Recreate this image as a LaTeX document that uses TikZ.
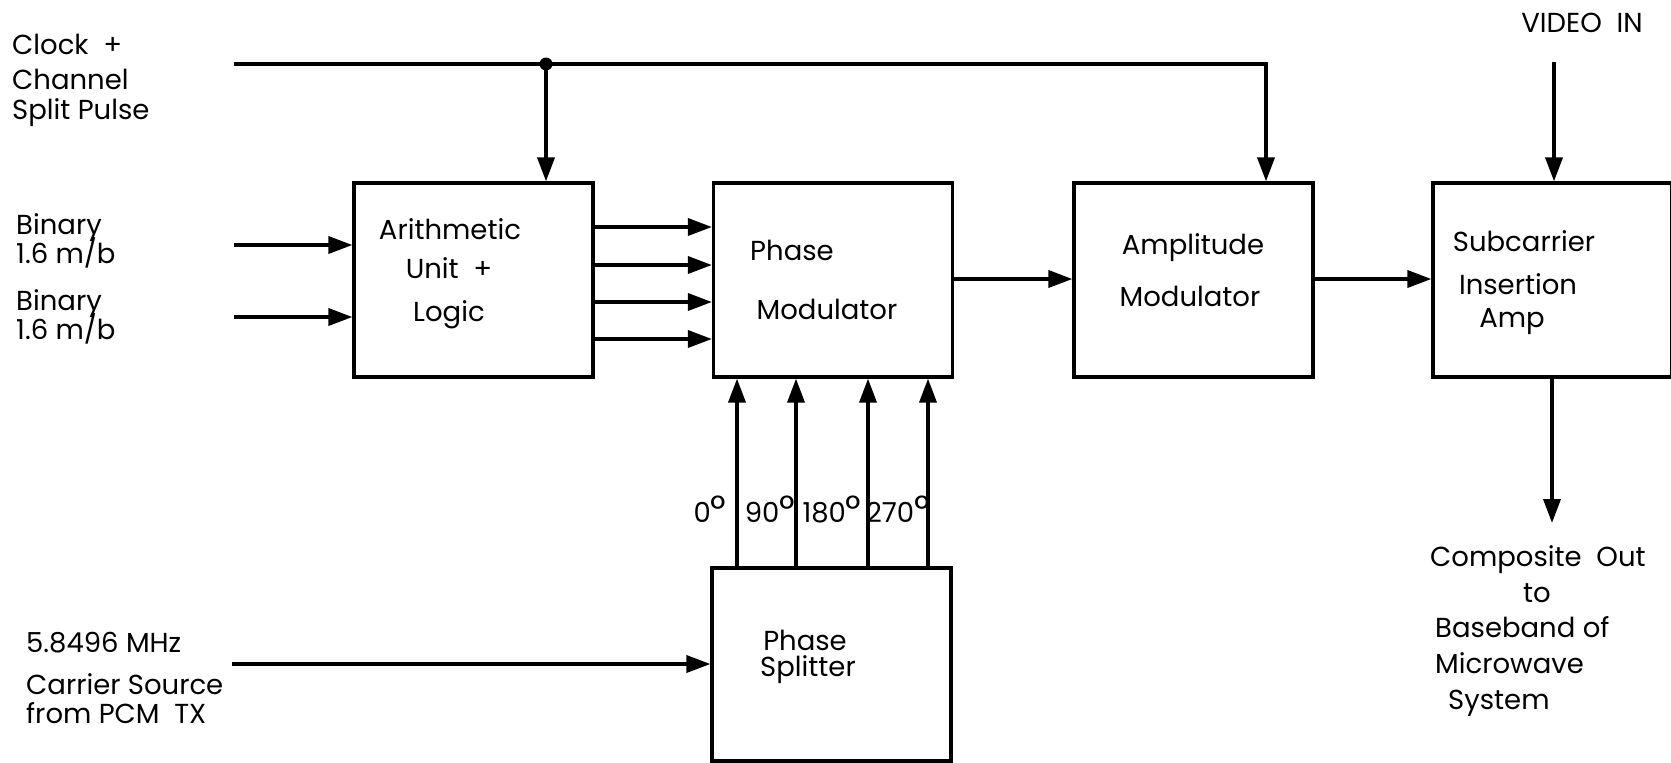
\documentclass[tikz,border=0pt]{standalone}
\usepackage{fontspec}
\setmainfont{Poppins}
\usetikzlibrary{arrows.meta,calc}
\newcommand{\dg}{{\fontsize{38}{38}\selectfont °}}
\begin{document}
\begin{tikzpicture}[x=1pt,y=-1pt,
  box/.style={draw,line width=3.2pt,minimum width=239pt,minimum height=194pt,inner sep=0pt},
  lbl/.style={inner sep=0pt,font=\fontsize{27.5}{32}\selectfont},
  lbll/.style={lbl,anchor=west},
  arr/.style={line width=3.6pt,-{Triangle[length=24pt,width=17pt]}},
  ln/.style={line width=3.6pt}]
\clip (0,0) rectangle (1671,763);
\fill[white] (0,0) rectangle (1671,763);
% boxes
\node[box] (au) at (473.5,280) {};
\node[box] (pm) at (833,280) {};
\node[box] (am) at (1193.5,280) {};
\node[box] (sc) at (1552.5,280) {};
\node[box,minimum height=193pt] (ps) at (831.5,664.5) {};
% box labels
\node[lbl] (t1) at (450,229) {Arithmetic};
\node[lbl] (t2) at (449,268) {Unit \ +};
\node[lbl] (t3) at (449,315) {Logic};
\node[lbl] (t4) at (792,250) {Phase};
\node[lbl] (t5) at (827,309) {Modulator};
\node[lbl] (t6) at (1193,248) {Amplitude};
\node[lbl] (t7) at (1190,296) {Modulator};
\node[lbl] (t8) at (1524,241) {Subcarrier};
\node[lbl] (t9) at (1518,284) {Insertion};
\node[lbl] (t10) at (1512,322) {Amp};
\node[lbl] (t11) at (805,640) {Phase};
\node[lbl] (t12) at (808,670) {Splitter};
% outside labels
\node[lbll] (c1) at (12,44) {Clock \ +};
\node[lbll] (c2) at (12,79) {Channel};
\node[lbll] (c3) at (12,113) {Split Pulse};
\node[lbll] (bn1) at (16,228) {Binary};
\node[lbll] (bn1b) at (16,253) {1.6 m/b};
\node[lbll] (bn2) at (16,304) {Binary};
\node[lbll] (bn2b) at (16,329) {1.6 m/b};
\node[lbll] (f1) at (26,643) {5.8496 MHz};
\node[lbll] (f2) at (26,684) {Carrier Source};
\node[lbll] (f3) at (26,713) {from PCM \ TX};
\node[lbl] (vid) at (1582,23) {VIDEO \ IN};
\node[lbll] (o1) at (1430,560) {Composite \ Out};
\node[lbl] (o2) at (1537,593) {to};
\node[lbll] (o3) at (1435,627) {Baseband of};
\node[lbll] (o4) at (1435,663) {Microwave};
\node[lbll] (o5) at (1448,703) {System};
\node[lbl] (d0) at (710,509) {0\dg};
\node[lbl] (d90) at (770,509) {90\dg};
\node[lbl] (d180) at (832,509) {180\dg};
\node[lbl] (d270) at (898,509) {270\dg};
% coordinates
\coordinate (clk) at (234,64);
\coordinate (tap) at (546,64);
\coordinate (b1) at (234,245);
\coordinate (b2) at (234,317);
\coordinate (car) at (232,664);
\coordinate (vin) at (1554,62);
\coordinate (cout) at (1552,523);
% connectors
\draw[arr] (clk) -| (am.north -| 1266,0);
\fill (tap) circle (6.5);
\draw[arr] (tap) -- (au.north -| tap);
\draw[arr] (b1) -- (au.west |- b1);
\draw[arr] (b2) -- (au.west |- b2);
\foreach \y in {227,265,302,339} {
  \draw[arr] (au.east |- 0,\y) -- (pm.west |- 0,\y);
}
\draw[arr] (pm.east |- 0,279) -- (am.west |- 0,279);
\draw[arr] (am.east |- 0,279) -- (sc.west |- 0,279);
\foreach \x in {737,796,868,928} {
  \draw[arr] (ps.north -| \x,0) -- (pm.south -| \x,0);
}
\draw[arr] (car) -- (ps.west |- car);
\draw[arr] (vin) -- (sc.north -| vin);
\draw[arr] (sc.south -| cout) -- (cout);
\end{tikzpicture}
\end{document}
